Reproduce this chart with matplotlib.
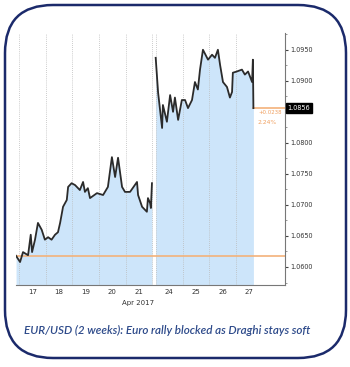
import matplotlib
matplotlib.use("Agg")
import matplotlib.pyplot as plt
from matplotlib.patches import FancyBboxPatch
import matplotlib.transforms as mtransforms
import numpy as np

# EUR/USD, x in trading days since Mon 17 Apr (weekend collapsed)
wk1_x = [-0.11, 0.04, 0.15, 0.34, 0.44, 0.49, 0.60, 0.71, 0.85, 0.97, 1.09, 1.22,
         1.35, 1.46, 1.54, 1.65, 1.79, 1.84, 1.97, 2.10, 2.28, 2.40, 2.47, 2.58,
         2.66, 2.92, 3.15, 3.33, 3.48, 3.60, 3.71, 3.86, 3.97, 4.16, 4.42, 4.46,
         4.61, 4.79, 4.83, 4.91, 4.94, 4.98]
wk1_y = [1.0618, 1.0608, 1.0624, 1.0619, 1.0652, 1.0624, 1.0644, 1.0671, 1.0660,
         1.0644, 1.0648, 1.0644, 1.0652, 1.0656, 1.0671, 1.0697, 1.0708, 1.0729,
         1.0735, 1.0732, 1.0724, 1.0737, 1.0721, 1.0727, 1.0711, 1.0719, 1.0716,
         1.0729, 1.0777, 1.0745, 1.0776, 1.0729, 1.0721, 1.0721, 1.0737, 1.0716,
         1.0697, 1.0689, 1.0711, 1.0703, 1.0695, 1.0735]
wk2_x = [5.12, 5.21, 5.36, 5.39, 5.54, 5.66, 5.77, 5.84, 5.96, 6.10, 6.22, 6.33,
         6.48, 6.59, 6.70, 6.78, 6.89, 7.08, 7.23, 7.34, 7.45, 7.53, 7.64, 7.79,
         7.90, 7.98, 8.01, 8.16, 8.35, 8.46, 8.58, 8.73, 8.76, 8.78]
wk2_y = [1.0937, 1.0881, 1.0824, 1.0861, 1.0834, 1.0877, 1.0850, 1.0873, 1.0837,
         1.0869, 1.0869, 1.0856, 1.0869, 1.0898, 1.0886, 1.0918, 1.0950, 1.0934,
         1.0942, 1.0937, 1.0950, 1.0926, 1.0898, 1.0890, 1.0873, 1.0882, 1.0913,
         1.0915, 1.0918, 1.0910, 1.0915, 1.0898, 1.0934, 1.0856]

base_price = 1.0618
last_price = 1.0856
change_txt = ["+0.0238", "2.24%"]
day_edges = [0, 1, 2, 3, 4, 5, 5.12, 6.13, 7.13, 8.13]
day_mid = [0.5, 1.5, 2.5, 3.5, 4.5, 5.62, 6.63, 7.63, 8.6]
day_labels = ["17", "18", "19", "20", "21", "24", "25", "26", "27"]
y_ticks = [1.0600, 1.0650, 1.0700, 1.0750, 1.0800, 1.0900, 1.0950]

small = ["Liberation Sans Narrow", "DejaVu Sans"]

fig = plt.figure(figsize=(3.5, 3.67), dpi=100)

# frame + caption drawn in pixel space
bg = fig.add_axes([0, 0, 1, 1])
bg.set_xlim(0, 350)
bg.set_ylim(367, 0)
bg.axis("off")
bg.add_patch(FancyBboxPatch((5, 5), 341, 353, boxstyle="round,pad=0,rounding_size=48",
                            fc="white", ec="#1b2a6b", lw=1.8))
bg.text(167, 330, "EUR/USD (2 weeks): Euro rally blocked as Draghi stays soft",
        ha="center", va="center", style="italic", fontsize=8.4, color="#2d4a8a",
        weight="semibold", family=["Lato", "DejaVu Sans"])

ax = fig.add_axes([16 / 350, 1 - 285 / 367, 269 / 350, 252 / 367])
ax.set_facecolor("none")
ymin, ymax = 1.0571, 1.0977
ax.set_xlim(-0.112, 9.963)
ax.set_ylim(ymin, ymax)

fill_c = "#cde5fa"
ax.fill_between(wk1_x, wk1_y, ymin, color=fill_c, lw=0)
ax.fill_between(wk2_x, wk2_y, ymin, color=fill_c, lw=0)
for e in day_edges:
    ax.axvline(e, color="#bbbbbb", lw=0.6, ls=(0, (1, 1.5)), zorder=1)
ax.axhline(base_price, color="#f3b27a", lw=1.2, zorder=2)
ax.plot(wk1_x, wk1_y, color="#2b2b2b", lw=1.3, zorder=3)
ax.plot(wk2_x, wk2_y, color="#2b2b2b", lw=1.3, zorder=3)
ax.plot([wk2_x[-1], 9.963], [last_price, last_price], color="#f3b27a", lw=1.2, zorder=2)

ax.text(8.95, 1.0849, change_txt[0], color="#f0a060", fontsize=3.9, va="center", family=small)
ax.text(8.95, 1.0833, change_txt[1], color="#f0a060", fontsize=4.3, va="center", family=small)

ax.yaxis.tick_right()
ax.set_yticks(y_ticks)
ax.set_yticklabels(["%.4f" % v for v in y_ticks], fontsize=4.7, family=small, color="#333333")
ax.set_yticks(np.arange(1.0575, 1.0976, 0.0025), minor=True)
ax.tick_params(axis="y", which="major", length=2.5, width=0.8, pad=1.5, color="#444444")
ax.tick_params(axis="y", which="minor", length=1.2, width=0.6, color="#888888")
ax.set_xticks(day_mid)
ax.set_xticklabels(day_labels, fontsize=5, family=small, color="#333333")
ax.tick_params(axis="x", length=0, pad=3)

trans = mtransforms.blended_transform_factory(ax.transAxes, ax.transData)
ax.text(1.01, last_price, "%.4f" % last_price, transform=trans, fontsize=4.7,
        color="white", va="center", ha="left", family=small,
        bbox=dict(boxstyle="square,pad=0.3", fc="black", ec="black"))
trans2 = mtransforms.blended_transform_factory(ax.transData, ax.transAxes)
ax.text(4.46, -0.072, "Apr 2017", transform=trans2, fontsize=5, ha="center", va="center",
        family=small, color="#333333")

for s in ["top", "left"]:
    ax.spines[s].set_visible(False)
ax.spines["bottom"].set_color("#777777")
ax.spines["right"].set_color("#777777")
ax.spines["bottom"].set_linewidth(0.8)
ax.spines["right"].set_linewidth(0.8)

fig.savefig("out.png", dpi=100)
